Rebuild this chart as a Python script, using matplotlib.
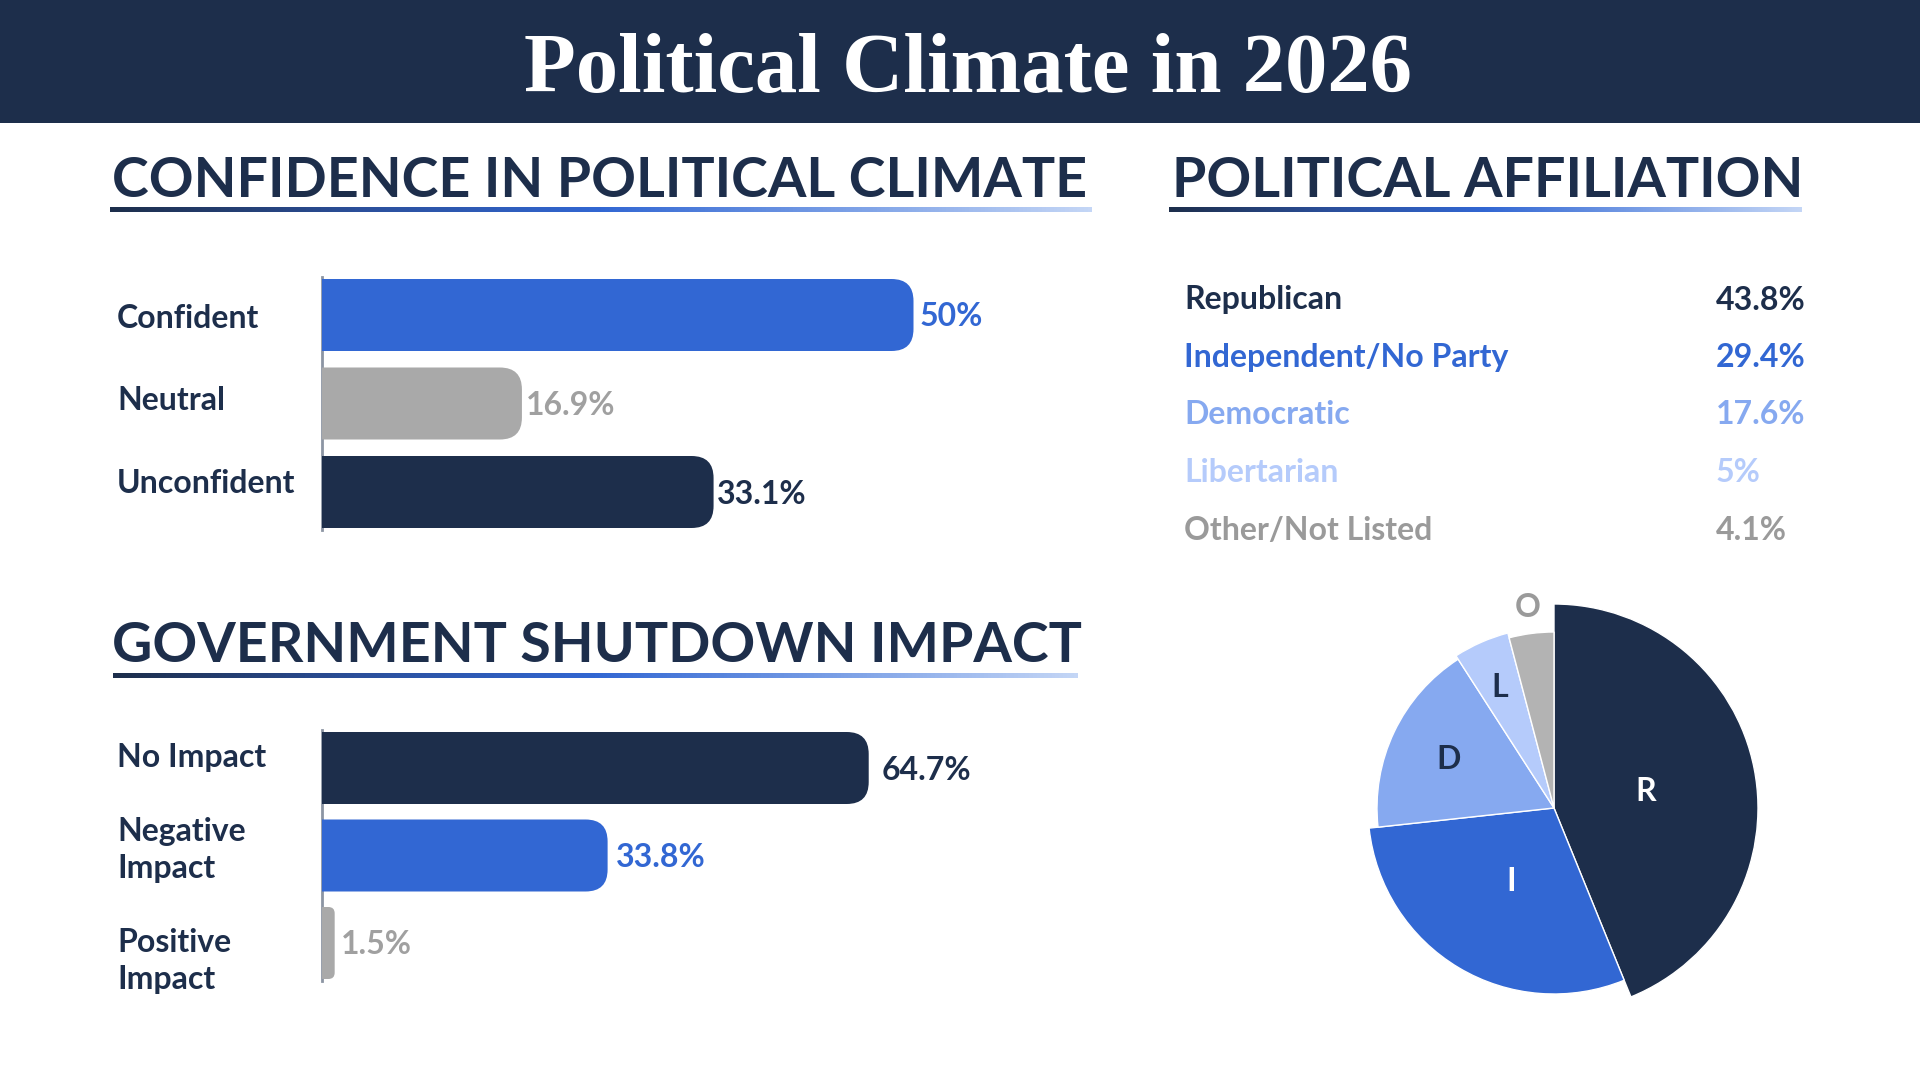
import numpy as np
import matplotlib
matplotlib.use("Agg")
import matplotlib.pyplot as plt
from matplotlib.patches import Rectangle, FancyBboxPatch, Wedge
from matplotlib.colors import LinearSegmentedColormap
from matplotlib.transforms import offset_copy

# data
conf_labels = ["Confident", "Neutral", "Unconfident"]
conf_values = [50, 16.9, 33.1]

shut_labels = ["No Impact", "Negative\nImpact", "Positive\nImpact"]
shut_values = [64.7, 33.8, 1.5]

party_names = ["Republican", "Independent/No Party", "Democratic", "Libertarian", "Other/Not Listed"]
party_short = ["R", "I", "D", "L", "O"]
party_values = [43.8, 29.4, 17.6, 5, 4.1]

# styles
NAVY = "#1d2e4b"
BLUE = "#3267d3"
GRAY = "#a9a9a9"
conf_colors = [BLUE, GRAY, NAVY]
conf_text = [BLUE, "#a0a0a0", NAVY]
shut_colors = [NAVY, BLUE, GRAY]
shut_text = [NAVY, BLUE, "#a0a0a0"]
party_colors = [NAVY, BLUE, "#86a9f0", "#b5cbfb", "#b3b3b3"]
party_text = [NAVY, BLUE, "#86a9f0", "#b5cbfb", "#9a9a9a"]
pie_label_colors = ["white", "white", NAVY, NAVY, "#9a9a9a"]
pie_radius = [204, 186, 177, 181, 176]
pie_label_dist = [0.46, 0.45, 0.66, 0.74, 1.16]

FONT = "Lato"
W, H = 1920, 1080

fig = plt.figure(figsize=(19.2, 10.8), dpi=100, facecolor="white")

# overlay in pixel coordinates
bg = fig.add_axes([0, 0, 1, 1])
bg.set_xlim(0, W)
bg.set_ylim(H, 0)
bg.axis("off")

bg.add_patch(Rectangle((0, 0), W, 123, color=NAVY, lw=0))
bg.text(968, 92, "Political Climate in 2026", color="white", fontsize=61,
        family="Liberation Serif", weight="bold", ha="center", va="baseline")

grad = LinearSegmentedColormap.from_list("u", [NAVY, "#2b4f9a", BLUE, "#7a9fe6", "#c4d6f6"])
gimg = np.linspace(0, 1, 256).reshape(1, -1)


def heading(x, base, text, x0, x1, uy):
    bg.text(x, base, text, color=NAVY, fontsize=40, family=FONT, weight="bold",
            ha="left", va="baseline")
    bg.imshow(gimg, cmap=grad, aspect="auto", extent=(x0, x1, uy + 5, uy), zorder=2)


heading(112, 197, "CONFIDENCE IN POLITICAL CLIMATE", 110, 1092, 207)
heading(1172, 197, "POLITICAL AFFILIATION", 1169, 1802, 207)
heading(112, 662, "GOVERNMENT SHUTDOWN IMPACT", 113, 1078, 673)
bg.set_xlim(0, W)
bg.set_ylim(H, 0)


def px_axes(left, top, width, height):
    return fig.add_axes([left / W, 1 - (top + height) / H, width / W, height / H])


def bar_chart(labels, values, colors, tcolors, top, pitch, xmax, sx, label_off, gaps):
    left = 322
    width = xmax * sx
    ax = px_axes(left, top - 0.6 * pitch, width, 3.2 * pitch)
    ax.set_xlim(0, xmax)
    ax.set_ylim(2.6, -0.6)
    ax.axis("off")
    h = 72 / pitch
    aspect = sx / pitch
    for i, (v, c) in enumerate(zip(values, colors)):
        r = min(22, v * sx * 0.5) / sx
        ax.add_patch(FancyBboxPatch((-r, i - h / 2), v + r, h,
                                    boxstyle=f"round,pad=0,rounding_size={r}",
                                    mutation_aspect=aspect, fc=c, ec="none", zorder=2))
        tr = offset_copy(ax.transData, fig, x=gaps[i], y=-11.5, units="dots")
        ax.text(v, i, f"{v:g}%", transform=tr, color=tcolors[i], fontsize=23,
                family=FONT, weight="bold", ha="left", va="baseline")
    ax.plot([0, 0], [-h / 2 - 0.02, 2 + h / 2 + 0.02], color="#8c95a3", lw=2,
            clip_on=False, zorder=1)
    xl = (117 - left) / width
    for i, lab in enumerate(labels):
        for j, line in enumerate(lab.split("\n")):
            tr = offset_copy(ax.get_yaxis_transform(), fig, x=0,
                             y=-(label_off[i] + 37 * j), units="dots")
            ax.text(xl, i, line, transform=tr, color=NAVY, fontsize=23, family=FONT,
                    weight="bold", ha="left", va="baseline")
    return ax


bar_chart(conf_labels, conf_values, conf_colors, conf_text, 315, 88.5, 60, 11.83,
          [13.3, 6.5, 1.3], [6, 4, 3])
bar_chart(shut_labels, shut_values, shut_colors, shut_text, 768, 87.5, 80, 8.45,
          [-1.3, -14.3, 8.7], [13, 8, 6])

# affiliation table
for i, (n, v) in enumerate(zip(party_names, party_values)):
    y = 309.5 + 57.5 * i
    bg.text(1184, y, n, color=party_text[i], fontsize=23, family=FONT, weight="bold",
            ha="left", va="baseline")
    bg.text(1716, y, f"{v:g}%", color=party_text[i], fontsize=23, family=FONT,
            weight="bold", ha="left", va="baseline")

# pie with per-slice radius
pax = px_axes(1554 - 250, 808 - 250, 500, 500)
pax.set_xlim(-250, 250)
pax.set_ylim(-250, 250)
pax.set_aspect("equal")
pax.axis("off")
total = sum(party_values)
start = 90.0
for i, v in enumerate(party_values):
    sweep = 360.0 * v / total
    end = start - sweep
    pax.add_patch(Wedge((0, 0), pie_radius[i], end, start, fc=party_colors[i],
                        ec="white", lw=1))
    mid = np.radians((start + end) / 2)
    d = pie_radius[i] * pie_label_dist[i]
    pax.text(d * np.cos(mid), d * np.sin(mid) - 11.5, party_short[i],
             color=pie_label_colors[i], fontsize=23, family=FONT, weight="bold",
             ha="center", va="baseline")
    start = end

fig.savefig("out.png", dpi=100, facecolor="white")
